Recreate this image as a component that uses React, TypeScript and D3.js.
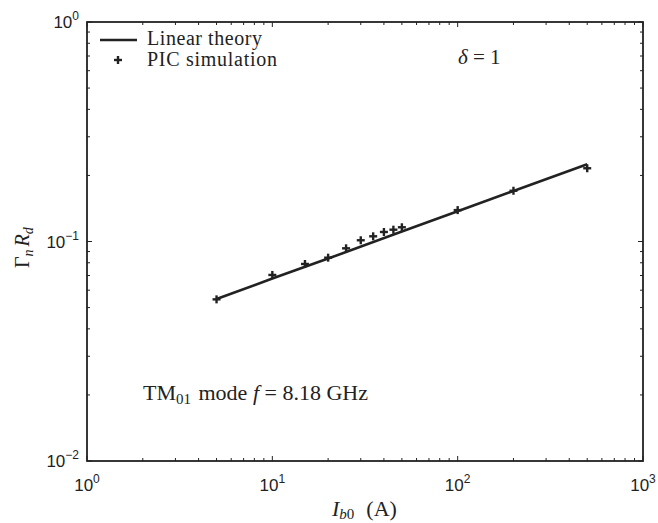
import React from "react";
import * as d3 from "d3";

const picCurrent = [5, 10, 15, 20, 25, 30, 35, 40, 45, 50, 100, 200, 500];
const picGrowth = [0.0545, 0.0704, 0.079, 0.0844, 0.0931, 0.1013, 0.1056, 0.1105, 0.1132, 0.1161, 0.139, 0.1703, 0.2156];
const theoryCurrent = [5, 10, 20, 50, 100, 200, 500];
const theoryGrowth = [0.0547, 0.0678, 0.0836, 0.111, 0.1374, 0.17, 0.2248];
const xTickExps = [0, 1, 2, 3];
const yTickExps = [-2, -1, 0];

const W = 658, H = 523;
const M = { left: 87, right: 643, top: 22, bottom: 461 };

export default function App() {
  const x = d3.scaleLog().domain([1, 1000]).range([M.left, M.right]);
  const y = d3.scaleLog().domain([0.01, 1]).range([M.bottom, M.top]);
  const line = d3.line<number>().x((_, i) => x(theoryCurrent[i])).y((d) => y(d));
  const ink = "#222";
  const serif = "'Liberation Serif', 'Times New Roman', serif";
  const sans = "'Liberation Sans', Arial, sans-serif";

  const xMinor: number[] = [];
  for (let e = 0; e < 3; e++) for (let k = 2; k <= 9; k++) xMinor.push(k * Math.pow(10, e));
  const yMinor: number[] = [];
  for (let e = -2; e < 0; e++) for (let k = 2; k <= 9; k++) yMinor.push(k * Math.pow(10, e));

  const ticks: React.ReactNode[] = [];
  xTickExps.forEach((e) => {
    const px = x(Math.pow(10, e));
    ticks.push(<line key={"xt" + e} x1={px} x2={px} y1={M.bottom} y2={M.bottom - 5} stroke={ink} strokeWidth={1} />);
    ticks.push(<line key={"xtt" + e} x1={px} x2={px} y1={M.top} y2={M.top + 5} stroke={ink} strokeWidth={1} />);
  });
  xMinor.forEach((v, i) => {
    const px = x(v);
    ticks.push(<line key={"xm" + i} x1={px} x2={px} y1={M.bottom} y2={M.bottom - 3} stroke={ink} strokeWidth={1} />);
    ticks.push(<line key={"xmt" + i} x1={px} x2={px} y1={M.top} y2={M.top + 3} stroke={ink} strokeWidth={1} />);
  });
  yTickExps.forEach((e) => {
    const py = y(Math.pow(10, e));
    ticks.push(<line key={"yt" + e} x1={M.left} x2={M.left + 5} y1={py} y2={py} stroke={ink} strokeWidth={1} />);
    ticks.push(<line key={"ytr" + e} x1={M.right} x2={M.right - 5} y1={py} y2={py} stroke={ink} strokeWidth={1} />);
  });
  yMinor.forEach((v, i) => {
    const py = y(v);
    ticks.push(<line key={"ym" + i} x1={M.left} x2={M.left + 3} y1={py} y2={py} stroke={ink} strokeWidth={1} />);
    ticks.push(<line key={"ymr" + i} x1={M.right} x2={M.right - 3} y1={py} y2={py} stroke={ink} strokeWidth={1} />);
  });

  const plus = (cx: number, cy: number, key: string) => (
    <g key={key} stroke={ink} strokeWidth={2.4}>
      <line x1={cx - 4} x2={cx + 4} y1={cy} y2={cy} />
      <line x1={cx} x2={cx} y1={cy - 4} y2={cy + 4} />
    </g>
  );

  return (
    <svg width={W} height={H} style={{ position: "absolute", left: 0, top: 0, background: "#fff" }}>
      <rect x={0} y={0} width={W} height={H} fill="#fff" />
      {ticks}
      <rect x={M.left} y={M.top} width={M.right - M.left} height={M.bottom - M.top} fill="none" stroke={ink} strokeWidth={1.8} />
      <path d={line(theoryGrowth) || ""} fill="none" stroke={ink} strokeWidth={2.6} />
      {picGrowth.map((g, i) => plus(x(picCurrent[i]), y(g), "p" + i))}

      {xTickExps.map((e) => (
        <text key={"xl" + e} x={x(Math.pow(10, e))} y={491} textAnchor="middle" fontFamily={sans} fontSize={17} fill={ink}>
          10<tspan dy={-8} fontSize={12}>{e}</tspan>
        </text>
      ))}
      {yTickExps.map((e) => (
        <text key={"yl" + e} x={79} y={y(Math.pow(10, e)) + 6} textAnchor="end" fontFamily={sans} fontSize={17} fill={ink}>
          10<tspan dy={-8} fontSize={12}>{e === 0 ? "0" : "\u2212" + Math.abs(e)}</tspan>
        </text>
      ))}

      <text x={332} y={516} fontFamily={serif} fontSize={22} fill={ink}>
        <tspan fontStyle="italic">I</tspan>
        <tspan fontStyle="italic" fontSize={15} dy={3}>b</tspan>
        <tspan fontSize={15}>0</tspan>
        <tspan dy={-3} dx={12}>(A)</tspan>
      </text>

      <text transform="translate(29,268) rotate(-90)" fontFamily={serif} fontSize={20} fill={ink}>
        Γ<tspan fontStyle="italic" fontSize={14} dy={4}>n</tspan>
        <tspan fontStyle="italic" dy={-4} dx={3}>R</tspan>
        <tspan fontStyle="italic" fontSize={14} dy={4}>d</tspan>
      </text>

      <line x1={100} x2={137} y1={40} y2={40} stroke={ink} strokeWidth={2.6} />
      <text x={147} y={45} fontFamily={serif} fontSize={20} fill={ink} textLength={115} lengthAdjust="spacing">Linear theory</text>
      {plus(118, 60, "legplus")}
      <text x={147} y={66} fontFamily={serif} fontSize={20} fill={ink} textLength={130} lengthAdjust="spacing">PIC simulation</text>

      <text x={458} y={64} fontFamily={serif} fontSize={21} fill={ink}>
        <tspan fontStyle="italic">δ</tspan> = 1
      </text>

      <text x={143} y={400} fontFamily={serif} fontSize={22} fill={ink}>
        TM<tspan fontSize={15} dy={4}>01</tspan>
        <tspan dy={-4} dx={2}> mode </tspan>
        <tspan fontStyle="italic">f</tspan> = 8.18 GHz
      </text>
    </svg>
  );
}
